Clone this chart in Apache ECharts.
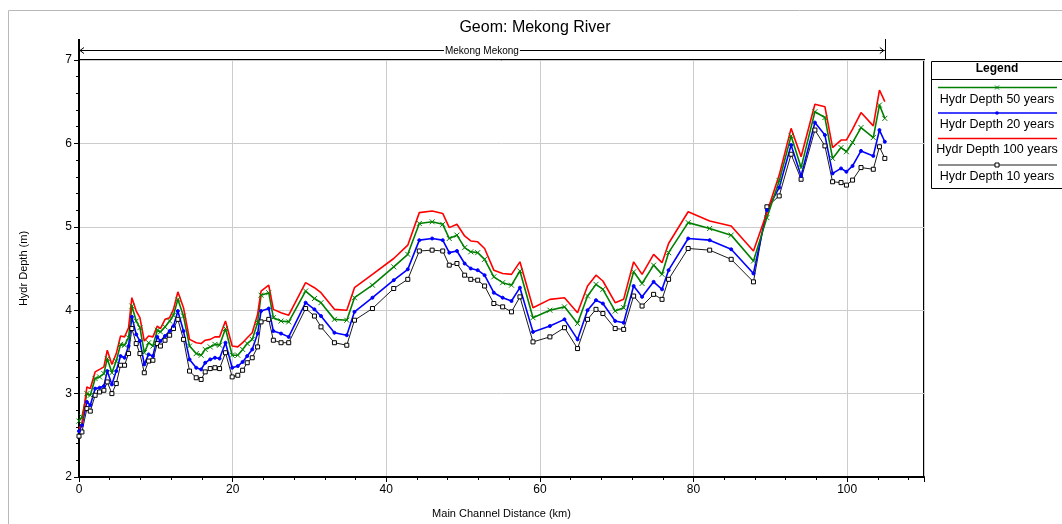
<!DOCTYPE html>
<html>
<head>
<meta charset="utf-8">
<script src="https://cdn.jsdelivr.net/npm/echarts@6/dist/echarts.min.js"></script>
<style>
html,body{margin:0;padding:0;background:#fff;}
#chart{width:1062px;height:524px;}
</style>
</head>
<body>
<div id="chart"></div>
<script>
// Main channel distance (km) of each cross-section
const km = [0.0,0.38,1.03,1.47,2.1,2.68,3.24,3.68,4.28,4.85,5.41,5.93,6.45,6.88,7.45,7.93,8.5,9.06,9.62,10.19,
  10.6,11.2,11.8,12.3,12.87,13.6,14.39,15.26,15.9,16.43,17.08,17.7,18.3,19.07,19.94,20.67,21.3,21.9,22.55,23.25,
  23.7,24.7,25.3,26.3,27.3,29.5,30.65,31.5,33.25,34.86,35.86,38.2,40.97,42.8,44.3,45.97,47.35,48.2,49.2,50.2,
  51.0,51.9,52.8,54.0,55.15,56.3,57.4,59.1,61.3,63.2,64.9,66.2,67.3,68.2,69.8,70.9,72.2,73.3,74.8,75.9,
  76.75,79.3,82.1,84.9,87.8,89.55,91.15,92.7,94.0,95.8,97.1,98.1,99.2,99.9,100.7,101.8,103.4,104.2,104.9];

const depth10 = [2.49,2.54,2.82,2.79,2.98,3.02,3.04,3.14,3.00,3.12,3.34,3.34,3.48,3.78,3.60,3.48,3.25,3.39,3.40,3.60,
  3.57,3.64,3.70,3.78,3.89,3.65,3.27,3.19,3.17,3.26,3.30,3.31,3.30,3.49,3.20,3.22,3.28,3.37,3.43,3.56,
  3.86,3.89,3.64,3.61,3.61,4.02,3.93,3.80,3.61,3.58,3.88,4.02,4.26,4.37,4.71,4.72,4.71,4.54,4.56,4.42,
  4.37,4.36,4.29,4.08,4.04,3.98,4.16,3.62,3.68,3.79,3.54,3.89,4.01,3.96,3.78,3.77,4.17,4.05,4.19,4.13,
  4.37,4.74,4.72,4.61,4.34,5.24,5.37,5.87,5.57,6.16,5.97,5.54,5.53,5.50,5.56,5.71,5.69,5.96,5.82];

const depth20 = [2.55,2.62,2.90,2.86,3.06,3.07,3.09,3.27,3.11,3.27,3.45,3.43,3.57,3.92,3.71,3.63,3.35,3.47,3.45,3.68,
  3.63,3.69,3.75,3.81,3.99,3.75,3.41,3.31,3.29,3.37,3.41,3.43,3.42,3.61,3.31,3.33,3.38,3.45,3.53,3.72,
  3.99,4.02,3.75,3.72,3.68,4.09,4.01,3.93,3.73,3.70,3.98,4.15,4.36,4.49,4.84,4.86,4.84,4.69,4.71,4.56,
  4.50,4.48,4.42,4.21,4.15,4.11,4.27,3.74,3.81,3.89,3.65,4.00,4.12,4.08,3.87,3.85,4.29,4.16,4.34,4.25,
  4.48,4.86,4.84,4.73,4.44,5.20,5.47,5.98,5.61,6.25,6.10,5.64,5.70,5.66,5.73,5.91,5.85,6.16,6.02];

const depth50 = [2.67,2.72,3.00,2.98,3.18,3.20,3.24,3.42,3.25,3.39,3.59,3.58,3.67,4.05,3.87,3.79,3.49,3.61,3.57,3.76,
  3.74,3.80,3.87,3.94,4.13,3.93,3.57,3.48,3.46,3.53,3.56,3.59,3.58,3.78,3.46,3.46,3.53,3.60,3.65,3.85,
  4.18,4.21,3.91,3.87,3.86,4.23,4.14,4.09,3.89,3.88,4.15,4.30,4.52,4.67,5.04,5.06,5.03,4.86,4.90,4.75,
  4.70,4.69,4.61,4.40,4.33,4.30,4.47,3.91,4.00,4.04,3.84,4.17,4.31,4.25,3.99,4.03,4.46,4.32,4.54,4.43,
  4.69,5.05,4.98,4.90,4.59,5.11,5.55,6.09,5.71,6.38,6.31,5.82,5.95,5.90,6.01,6.19,6.07,6.46,6.30];

const depth100 = [2.58,2.64,3.08,3.06,3.26,3.29,3.32,3.52,3.35,3.48,3.69,3.68,3.79,4.15,3.99,3.91,3.63,3.69,3.68,3.81,
  3.78,3.89,3.91,4.01,4.22,4.03,3.65,3.61,3.60,3.64,3.65,3.68,3.68,3.87,3.57,3.56,3.61,3.67,3.73,3.95,
  4.23,4.30,4.01,3.97,3.94,4.33,4.27,4.21,4.01,4.00,4.27,4.43,4.62,4.78,5.17,5.19,5.16,4.99,5.03,4.89,
  4.83,4.82,4.74,4.48,4.44,4.43,4.58,4.03,4.13,4.15,3.97,4.29,4.42,4.35,4.09,4.13,4.58,4.43,4.67,4.57,
  4.80,5.18,5.07,5.01,4.71,5.17,5.62,6.18,5.84,6.47,6.44,5.95,6.04,6.04,6.17,6.37,6.21,6.64,6.50];

const seriesNames = ['Hydr Depth 50 years','Hydr Depth 20 years','Hydr Depth 100 years','Hydr Depth 10 years'];
const reachLabel = 'Mekong Mekong';
const xTicks = [0,20,40,60,80,100];
const yTicks = [2,3,4,5,6,7];

const pairs = arr => km.map((x,i)=>[x,arr[i]]);
const lastKm = km[km.length-1];

const xSym = 'path://M0,0L10,10M10,0L0,10';
const styles = {
  'Hydr Depth 50 years': {color:'#008000', width:1.6, symbol:xSym, size:5, fill:'#008000', data:depth50},
  'Hydr Depth 20 years': {color:'#0000ff', width:1.6, symbol:'circle', size:3, fill:'#0000ff', data:depth20},
  'Hydr Depth 100 years': {color:'#ff0000', width:1.6, symbol:'none', size:0, fill:'#ff0000', data:depth100},
  'Hydr Depth 10 years': {color:'#000000', width:0.9, symbol:'rect', size:4, fill:'#ffffff', data:depth10}
};

const drawOrder = ['Hydr Depth 10 years','Hydr Depth 20 years','Hydr Depth 50 years','Hydr Depth 100 years'];
const series = drawOrder.map(name => {
  const s = styles[name];
  return {
    name, type:'line', data:pairs(s.data),
    showSymbol: s.symbol !== 'none', symbol: s.symbol, symbolSize: s.size,
    lineStyle:{color:s.color, width:s.width},
    itemStyle:{color:s.fill, borderColor:s.color, borderWidth:1},
    clip:false, silent:true
  };
});

const chart = echarts.init(document.getElementById('chart'), null, {renderer:'canvas'});

chart.setOption({
  animation:false,
  backgroundColor:'#fff',
  title:{text:'Geom: Mekong River', left:530, top:15, textAlign:'center',
    textStyle:{fontFamily:'Liberation Sans', fontSize:16, fontWeight:'normal', color:'#000'}},
  grid:{left:79, top:60, right:138, bottom:43, show:true, borderColor:'#000', borderWidth:2, backgroundColor:'transparent'},
  xAxis:{
    type:'value', min:0, max:110, interval:20,
    name:'Main Channel Distance (km)', nameLocation:'middle', nameGap:31,
    nameTextStyle:{fontFamily:'Liberation Sans', fontSize:11, color:'#000'},
    axisLine:{show:true, onZero:false, lineStyle:{color:'#000', width:2}},
    axisTick:{show:true, length:5, lineStyle:{color:'#000'}},
    minorTick:{show:true, splitNumber:5, length:3, lineStyle:{color:'#000'}},
    splitLine:{show:true, lineStyle:{color:'#cccccc', width:1}},
    axisLabel:{color:'#000', fontFamily:'Liberation Sans', fontSize:12, margin:7,
      formatter: v => xTicks.includes(v) ? String(v) : ''}
  },
  yAxis:{
    type:'value', min:2, max:7, interval:1,
    name:'Hydr Depth (m)', nameLocation:'middle', nameGap:50, nameRotate:90,
    nameTextStyle:{fontFamily:'Liberation Sans', fontSize:11, color:'#000'},
    axisLine:{show:true, onZero:false, lineStyle:{color:'#000', width:2}},
    axisTick:{show:true, length:5, lineStyle:{color:'#000'}},
    minorTick:{show:true, splitNumber:5, length:3, lineStyle:{color:'#000'}},
    splitLine:{show:true, lineStyle:{color:'#cccccc', width:1}},
    axisLabel:{color:'#000', fontFamily:'Liberation Sans', fontSize:12, margin:7,
      formatter: v => yTicks.includes(v) ? String(v) : ''}
  },
  series
});

// ---- annotations: reach bracket (positioned through the axes) and legend box ----
const p0 = chart.convertToPixel({gridIndex:0}, [0, 7]);
const p1 = chart.convertToPixel({gridIndex:0}, [lastKm, 7]);
const by = Math.round(p0[1] - 10) + 0.5;
const bTop = p0[1] - 21;
const graphics = [
  {type:'rect', shape:{x:8.5,y:10.5,width:1100,height:600}, style:{fill:null, stroke:'#b8b8b8', lineWidth:1}, silent:true, z:-10},
  {type:'line', shape:{x1:p0[0], y1:by, x2:p1[0], y2:by}, style:{stroke:'#000', lineWidth:1}},
  {type:'line', shape:{x1:p0[0], y1:bTop, x2:p0[0], y2:p0[1]}, style:{stroke:'#000', lineWidth:2}},
  {type:'line', shape:{x1:Math.round(p1[0])+0.5, y1:bTop, x2:Math.round(p1[0])+0.5, y2:p1[1]}, style:{stroke:'#000', lineWidth:1}},
  {type:'polyline', shape:{points:[[p0[0]+5, by-3],[p0[0]+1, by],[p0[0]+5, by+3]]}, style:{stroke:'#000', lineWidth:1, fill:null}},
  {type:'polyline', shape:{points:[[p1[0]-5, by-3],[p1[0]-1, by],[p1[0]-5, by+3]]}, style:{stroke:'#000', lineWidth:1, fill:null}},
  {type:'text', x:(p0[0]+p1[0])/2, y:by+1, style:{text:reachLabel, fill:'#000', font:'10px "Liberation Sans", Arial, sans-serif',
    textAlign:'center', textVerticalAlign:'middle', backgroundColor:'#fff', padding:[0,1]}}
];

const lgLeft = 931, lgTop = 61, lgW = 140, lgCx = 997;
const rowLine = [87.5,113,138.5,165];
const rowText = [100,125,150,176.5];
graphics.push(
  {type:'rect', shape:{x:lgLeft+0.5,y:lgTop+0.5,width:lgW,height:127}, style:{fill:'#fff', stroke:'#000', lineWidth:1}, silent:true},
  {type:'text', x:lgCx, y:69, style:{text:'Legend', fill:'#000', font:'bold 12px "Liberation Sans", Arial, sans-serif', textAlign:'center', textVerticalAlign:'middle'}},
  {type:'line', shape:{x1:lgLeft, y1:79.5, x2:lgLeft+lgW, y2:79.5}, style:{stroke:'#000', lineWidth:1}}
);
seriesNames.forEach((name,i)=>{
  const s = styles[name];
  graphics.push({type:'line', shape:{x1:938,y1:rowLine[i],x2:1057,y2:rowLine[i]}, style:{stroke:s.color, lineWidth:s.width}});
  if (s.symbol === 'circle') {
    graphics.push({type:'circle', shape:{cx:997,cy:rowLine[i],r:1.8}, style:{fill:s.color}});
  } else if (s.symbol === 'rect') {
    graphics.push({type:'rect', shape:{x:995,y:rowLine[i]-2,width:4,height:4}, style:{fill:'#fff', stroke:s.color, lineWidth:1}});
  } else if (s.symbol !== 'none') {
    graphics.push({type:'polyline', shape:{points:[[995,rowLine[i]-2],[999,rowLine[i]+2]]}, style:{stroke:s.color, lineWidth:1}});
    graphics.push({type:'polyline', shape:{points:[[999,rowLine[i]-2],[995,rowLine[i]+2]]}, style:{stroke:s.color, lineWidth:1}});
  }
  graphics.push({type:'text', x:lgCx, y:rowText[i], style:{text:name, fill:'#000', font:'12.5px "Liberation Sans", Arial, sans-serif', textAlign:'center', textVerticalAlign:'middle'}});
});

chart.setOption({graphic: graphics});
</script>
</body>
</html>
